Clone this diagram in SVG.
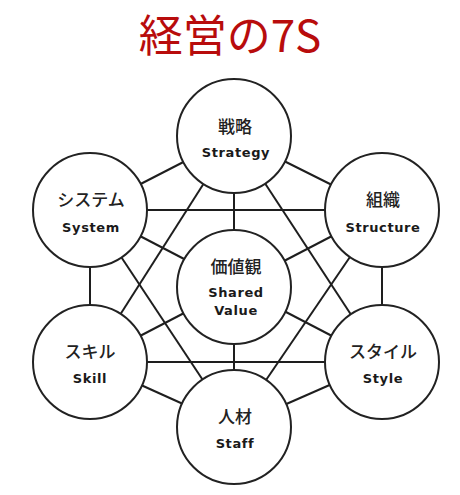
<svg xmlns="http://www.w3.org/2000/svg" width="460" height="495" viewBox="0 0 460 495">
<style>
.edge{stroke:#1e1e1e;stroke-width:2;fill:none}
.node{fill:#fff;stroke:#222;stroke-width:2}
.jp{font-family:"Noto Sans CJK JP","Noto Sans",sans-serif;font-size:17px;font-weight:500;fill:#222;text-anchor:middle}
.en{font-family:"DejaVu Sans",sans-serif;font-weight:bold;font-size:13px;letter-spacing:0.6px;fill:#1a1a1a;text-anchor:middle}
.title{font-family:"Noto Sans CJK JP","Noto Sans",sans-serif;font-size:44px;fill:#b80c0c;text-anchor:middle}
</style>
<rect width="460" height="495" fill="#fff"/>
<text class="title" x="230" y="52">経営の7S</text>
<g id="connectors">
<line class="edge" x1="234" y1="136" x2="90" y2="210"/>
<line class="edge" x1="234" y1="136" x2="382" y2="210"/>
<line class="edge" x1="382" y1="210" x2="382" y2="362"/>
<line class="edge" x1="382" y1="362" x2="234" y2="427"/>
<line class="edge" x1="234" y1="427" x2="90" y2="362"/>
<line class="edge" x1="90" y1="362" x2="90" y2="210"/>
<line class="edge" x1="90" y1="210" x2="382" y2="210"/>
<line class="edge" x1="90" y1="362" x2="382" y2="362"/>
<line class="edge" x1="234" y1="136" x2="234" y2="427"/>
<line class="edge" x1="234" y1="136" x2="90" y2="362"/>
<line class="edge" x1="234" y1="136" x2="382" y2="362"/>
<line class="edge" x1="234" y1="427" x2="90" y2="210"/>
<line class="edge" x1="234" y1="427" x2="382" y2="210"/>
<line class="edge" x1="90" y1="210" x2="382" y2="362"/>
<line class="edge" x1="382" y1="210" x2="90" y2="362"/>
</g>
<g id="strategy">
<circle class="node" cx="234" cy="136" r="57"/>
<text class="jp" x="235" y="133">戦略</text>
<text class="en" x="236" y="157">Strategy</text>
</g>
<g id="structure">
<circle class="node" cx="382" cy="210" r="57"/>
<text class="jp" x="383" y="206">組織</text>
<text class="en" x="383" y="232">Structure</text>
</g>
<g id="system">
<circle class="node" cx="90" cy="210" r="57"/>
<text class="jp" x="91" y="206">システム</text>
<text class="en" x="91" y="232">System</text>
</g>
<g id="shared-value">
<circle class="node" cx="234" cy="287" r="57"/>
<text class="jp" x="236" y="273">価値観</text>
<text class="en" x="236" y="297">Shared</text>
<text class="en" x="236" y="315">Value</text>
</g>
<g id="skill">
<circle class="node" cx="90" cy="362" r="57"/>
<text class="jp" x="90" y="358">スキル</text>
<text class="en" x="90" y="383">Skill</text>
</g>
<g id="style">
<circle class="node" cx="382" cy="362" r="57"/>
<text class="jp" x="383" y="358">スタイル</text>
<text class="en" x="383" y="383">Style</text>
</g>
<g id="staff">
<circle class="node" cx="234" cy="427" r="57"/>
<text class="jp" x="235" y="423">人材</text>
<text class="en" x="235" y="448">Staff</text>
</g>
</svg>
